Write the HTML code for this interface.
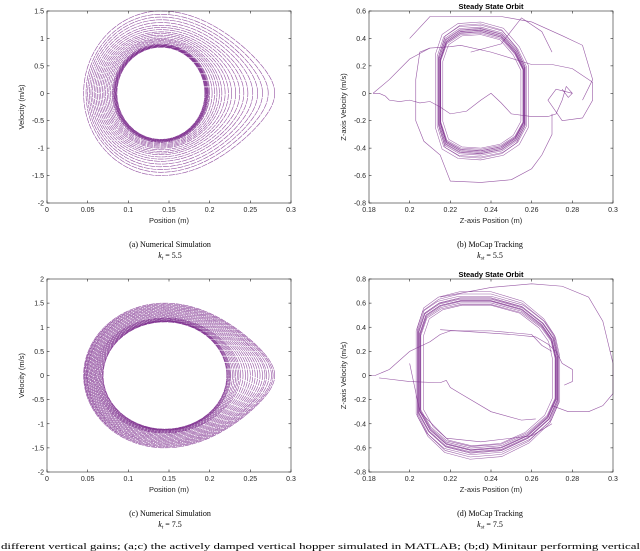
<!DOCTYPE html>
<html><head><meta charset="utf-8">
<style>
html,body{margin:0;padding:0;background:#fff;}
svg{display:block;}
.tk{font-family:"Liberation Sans",sans-serif;font-size:7px;fill:#262626;}
.al{font-family:"Liberation Sans",sans-serif;font-size:7.5px;fill:#262626;}
.ttl{font-family:"Liberation Sans",sans-serif;font-size:7.5px;font-weight:bold;fill:#000;}
.cap{font-family:"Liberation Serif",serif;font-size:8px;fill:#000;}
</style></head>
<body>
<svg id="fig" width="640" height="551" viewBox="0 0 640 551" xmlns="http://www.w3.org/2000/svg">
<text class="cap" x="170" y="247" text-anchor="middle">(a) Numerical Simulation</text>
<text class="cap" x="170" y="258" text-anchor="middle"><tspan font-style="italic">k</tspan><tspan font-style="italic" font-size="5.5" dy="1.5">t</tspan><tspan dy="-1.5"> = 5.5</tspan></text>
<text class="cap" x="490" y="247" text-anchor="middle">(b) MoCap Tracking</text>
<text class="cap" x="490" y="258" text-anchor="middle"><tspan font-style="italic">k</tspan><tspan font-style="italic" font-size="5.5" dy="1.5">st</tspan><tspan dy="-1.5"> = 5.5</tspan></text>
<text class="cap" x="170" y="516" text-anchor="middle">(c) Numerical Simulation</text>
<text class="cap" x="170" y="527" text-anchor="middle"><tspan font-style="italic">k</tspan><tspan font-style="italic" font-size="5.5" dy="1.5">t</tspan><tspan dy="-1.5"> = 7.5</tspan></text>
<text class="cap" x="490" y="516" text-anchor="middle">(d) MoCap Tracking</text>
<text class="cap" x="490" y="527" text-anchor="middle"><tspan font-style="italic">k</tspan><tspan font-style="italic" font-size="5.5" dy="1.5">st</tspan><tspan dy="-1.5"> = 7.5</tspan></text>
<text class="cap" x="1" y="549" font-size="11.5" textLength="639" lengthAdjust="spacingAndGlyphs">different vertical gains; (a;c) the actively damped vertical hopper simulated in MATLAB; (b;d) Minitaur performing vertical</text>
</svg>
<script>
// ---- data ----
const simA_vmax=[0.84,0.845,0.85,0.855,0.86,0.865,0.87,0.875,0.88,0.89,0.90,0.92,0.94,0.96,0.98,1.00,1.03,1.06,1.09,1.12,1.16,1.20,1.24,1.29,1.34,1.39,1.44,1.50];
const simA_xl=[0.086,0.0855,0.085,0.0845,0.084,0.0835,0.083,0.0825,0.082,0.081,0.080,0.078,0.076,0.074,0.072,0.070,0.068,0.066,0.064,0.062,0.060,0.058,0.056,0.054,0.052,0.050,0.048,0.045];
const simA_xr=[0.194,0.1945,0.195,0.1955,0.196,0.1965,0.197,0.1975,0.198,0.199,0.200,0.203,0.206,0.209,0.212,0.215,0.219,0.223,0.227,0.232,0.237,0.242,0.247,0.253,0.259,0.265,0.272,0.280];
const simC_vmax=[1.11,1.115,1.12,1.125,1.13,1.135,1.14,1.15,1.16,1.17,1.18,1.19,1.20,1.22,1.24,1.26,1.28,1.30,1.32,1.34,1.36,1.38,1.40,1.42,1.44,1.46,1.48,1.50];
const simC_xl=[0.069,0.0685,0.068,0.067,0.066,0.065,0.064,0.063,0.062,0.061,0.060,0.059,0.058,0.057,0.056,0.055,0.054,0.053,0.052,0.051,0.050,0.049,0.049,0.048,0.047,0.046,0.046,0.045];
const simC_xr=[0.221,0.2215,0.222,0.223,0.224,0.225,0.226,0.228,0.230,0.232,0.234,0.236,0.238,0.241,0.244,0.247,0.250,0.253,0.256,0.259,0.262,0.265,0.268,0.270,0.273,0.276,0.278,0.280];
const mocapB_loopX=[0.215,0.218,0.225,0.235,0.245,0.252,0.256,0.256,0.252,0.245,0.235,0.225,0.218,0.215,0.215];
const mocapB_loopV=[0.25,0.38,0.45,0.46,0.42,0.3,0.18,-0.22,-0.33,-0.40,-0.43,-0.42,-0.36,-0.22,0.25];
const mocapB_scale=[1.0,1.02,0.97,1.05,0.95,1.08,1.0,0.93,1.1,1.03,0.98,1.13];
const mocapB_pathX=[[0.182,0.185,0.188,0.19,0.195,0.2,0.205,0.21,0.215,0.22,0.228,0.235,0.24,0.245,0.25,0.26,0.268,0.272,0.275,0.277,0.28,0.278,0.275],
 [0.182,0.19,0.2,0.21,0.22,0.225,0.24,0.26,0.27,0.28,0.29,0.29,0.285,0.275,0.268,0.272,0.28],
 [0.21,0.205,0.203,0.203,0.207,0.215,0.22,0.235,0.25,0.26,0.265,0.27,0.27],
 [0.2,0.21,0.218,0.245,0.26,0.275,0.285,0.29,0.285],
 [0.23,0.245,0.255,0.265,0.27]];
const mocapB_pathV=[[0,0,-0.02,-0.05,-0.06,-0.05,-0.07,-0.06,-0.1,-0.15,-0.13,-0.05,0,-0.07,-0.15,-0.17,-0.17,-0.15,-0.05,0.05,0,-0.03,0.03],
 [0,0.1,0.25,0.33,0.34,0.35,0.3,0.21,0.21,0.18,0.08,-0.05,-0.18,-0.2,-0.05,0.03,0],
 [0.33,0.3,0.1,-0.2,-0.35,-0.45,-0.64,-0.65,-0.63,-0.55,-0.45,-0.3,-0.15],
 [0.4,0.56,0.56,0.56,0.52,0.42,0.35,0.1,-0.05],
 [0.3,0.36,0.55,0.45,0.3]];
const mocapD_loopX=[0.205,0.208,0.215,0.225,0.24,0.255,0.265,0.27,0.272,0.272,0.268,0.258,0.245,0.23,0.218,0.21,0.205,0.205];
const mocapD_loopV=[0.35,0.5,0.58,0.62,0.62,0.55,0.42,0.3,0.15,-0.2,-0.35,-0.5,-0.6,-0.62,-0.57,-0.45,-0.3,0.35];
const mocapD_scale=[1.0,1.03,0.97,1.06,0.95,1.02,1.09,0.99,1.04,0.94,1.12,1.0];
const mocapD_pathX=[[0.18,0.183,0.19,0.2,0.21,0.215,0.22,0.24,0.26,0.265,0.27],
 [0.185,0.2,0.215,0.218,0.22,0.225,0.24,0.255,0.262],
 [0.215,0.25,0.262,0.268,0.272,0.275,0.28,0.28,0.276],
 [0.215,0.24,0.26,0.275,0.288,0.295,0.3,0.3,0.295,0.288,0.278,0.27],
 [0.2,0.205,0.218,0.235,0.26,0.27]];
const mocapD_pathV=[[0,0,0.05,0.2,0.28,0.34,0.37,0.37,0.34,0.25,0.2],
 [-0.02,-0.05,-0.06,-0.04,-0.1,-0.15,-0.3,-0.37,-0.36],
 [0.38,0.34,0.32,0.26,0.2,0.1,0.05,-0.05,-0.08],
 [0.65,0.73,0.76,0.74,0.65,0.45,0.1,-0.15,-0.25,-0.3,-0.3,-0.25],
 [0.1,-0.3,-0.52,-0.55,-0.5,-0.4]];
const ticksA_x=[0,0.05,0.1,0.15,0.2,0.25,0.3], ticksA_xl=["0","0.05","0.1","0.15","0.2","0.25","0.3"];
const ticksA_y=[-2,-1.5,-1,-0.5,0,0.5,1,1.5], ticksA_yl=["-2","-1.5","-1","-0.5","0","0.5","1","1.5"];
const ticksC_y=[-2,-1.5,-1,-0.5,0,0.5,1,1.5,2], ticksC_yl=["-2","-1.5","-1","-0.5","0","0.5","1","1.5","2"];
const ticksB_x=[0.18,0.2,0.22,0.24,0.26,0.28,0.3], ticksB_xl=["0.18","0.2","0.22","0.24","0.26","0.28","0.3"];
const ticksB_y=[-0.8,-0.6,-0.4,-0.2,0,0.2,0.4,0.6], ticksB_yl=["-0.8","-0.6","-0.4","-0.2","0","0.2","0.4","0.6"];
const ticksD_y=[-0.8,-0.6,-0.4,-0.2,0,0.2,0.4,0.6,0.8], ticksD_yl=["-0.8","-0.6","-0.4","-0.2","0","0.2","0.4","0.6","0.8"];

const NS="http://www.w3.org/2000/svg", svg=document.getElementById('fig');
const COL="#7e2f8e";
function mk(tag,attrs,parent){const e=document.createElementNS(NS,tag);for(const k in attrs)e.setAttribute(k,attrs[k]);(parent||svg).appendChild(e);return e;}

function panel(id,L,T,R,B,x0,x1,y0,y1,tx,txl,ty,tyl,xlab,ylab,title){
  const g=mk('g',{});
  
  
  const sx=v=>L+(v-x0)/(x1-x0)*(R-L), sy=v=>B-(v-y0)/(y1-y0)*(B-T);
  const plot=mk('g',{},g);
  
  
  const frame=mk('rect',{x:L,y:T,width:R-L,height:B-T,fill:'none',stroke:'#262626','stroke-width':0.6},g);
  
  
  tx.forEach((v,i)=>{const x=sx(v);
    mk('line',{x1:x,x2:x,y1:B,y2:B-2.5,stroke:'#262626','stroke-width':0.6},g);
    mk('line',{x1:x,x2:x,y1:T,y2:T+2.5,stroke:'#262626','stroke-width':0.6},g);
    const t=mk('text',{x:x,y:B+9,'text-anchor':'middle',class:'tk'},g);t.textContent=txl[i];
    
    });
  ty.forEach((v,i)=>{const y=sy(v);
    mk('line',{x1:L,x2:L+2.5,y1:y,y2:y,stroke:'#262626','stroke-width':0.6},g);
    mk('line',{x1:R,x2:R-2.5,y1:y,y2:y,stroke:'#262626','stroke-width':0.6},g);
    const t=mk('text',{x:L-3,y:y+2.5,'text-anchor':'end',class:'tk'},g);t.textContent=tyl[i];
    
    });
  const xl=mk('text',{x:(L+R)/2,y:B+20,'text-anchor':'middle',class:'al'},g);xl.textContent=xlab;
  
  
  const yl=mk('text',{x:0,y:0,'text-anchor':'middle',class:'al',transform:`translate(${L-23},${(T+B)/2}) rotate(-90)`},g);yl.textContent=ylab;
  
  
  if(title){const tt=mk('text',{x:(L+R)/2,y:T-2,'text-anchor':'middle',class:'ttl'},g);tt.textContent=title;
    
    }
  return {plot,sx,sy};
}

function rings(p,vmax,xl,xr,innerXr,outerXr){
  const c=(xl[0]+xr[0])/2;
  vmax.forEach((vm,i)=>{
    const a=xl[i], b=xr[i];
    const k=0.35*Math.max(0,(b-innerXr))/(outerXr-innerXr);
    let d='';
    for(let j=0;j<=120;j++){const th=j/120*2*Math.PI, cs=Math.cos(th), sn=Math.sin(th);
      let x,v;
      if(cs>=0){x=c+(b-c)*cs; v=vm*sn*(1-k*cs*cs);} else {x=c+(c-a)*cs; v=vm*sn;}
      d+=(j?'L':'M')+p.sx(x).toFixed(2)+','+p.sy(v).toFixed(2);}
    const e=mk('path',{d:d,fill:'none',stroke:COL,'stroke-width':0.6,'stroke-dasharray':'6 0.8','stroke-opacity':0.85},p.plot);
    
    
  });
}
function mocap(p,lx,lv,scales,px,pv){
  const cx=(Math.min(...lx)+Math.max(...lx))/2, cv=0;
  scales.forEach((s,i)=>{
    const sxs=1+(s-1)*(i%2?0.9:0.3);
    const d=lx.map((x,j)=>(j?'L':'M')+p.sx(cx+(x-cx)*sxs).toFixed(2)+','+p.sy(cv+lv[j]*s).toFixed(2)).join('');
    const e=mk('path',{d:d,fill:'none',stroke:COL,'stroke-width':0.55,'stroke-opacity':0.75},p.plot);
    
    
  });
  px.forEach((xs,i)=>{
    const d=xs.map((x,j)=>(j?'L':'M')+p.sx(x).toFixed(2)+','+p.sy(pv[i][j]).toFixed(2)).join('');
    const e=mk('path',{d:d,fill:'none',stroke:COL,'stroke-width':0.6,'stroke-opacity':0.8},p.plot);
    
    
  });
}
const pa=panel('panel-a',47,11,291,203,0,0.3,-2,1.5,ticksA_x,ticksA_xl,ticksA_y,ticksA_yl,'Position (m)','Velocity (m/s)',null);
rings(pa,simA_vmax,simA_xl,simA_xr,0.195,0.28);
const pb=panel('panel-b',369,11,613,203,0.18,0.3,-0.8,0.6,ticksB_x,ticksB_xl,ticksB_y,ticksB_yl,'Z-axis Position (m)','Z-axis Velocity (m/s)','Steady State Orbit');
mocap(pb,mocapB_loopX,mocapB_loopV,mocapB_scale,mocapB_pathX,mocapB_pathV);
const pc=panel('panel-c',47,279,291,472,0,0.3,-2,2,ticksA_x,ticksA_xl,ticksC_y,ticksC_yl,'Position (m)','Velocity (m/s)',null);
rings(pc,simC_vmax,simC_xl,simC_xr,0.222,0.28);
const pd=panel('panel-d',369,279,613,472,0.18,0.3,-0.8,0.8,ticksB_x,ticksB_xl,ticksD_y,ticksD_yl,'Z-axis Position (m)','Z-axis Velocity (m/s)','Steady State Orbit');
mocap(pd,mocapD_loopX,mocapD_loopV,mocapD_scale,mocapD_pathX,mocapD_pathV);
</script>
</body></html>
